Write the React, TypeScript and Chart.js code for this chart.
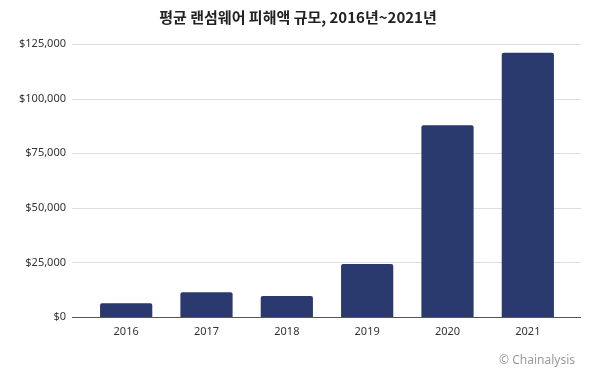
import React, { useEffect, useRef } from "react";
import { Chart, registerables } from "chart.js";

Chart.register(...registerables);

const TITLE = "평균 랜섬웨어 피해액 규모, 2016년~2021년";
const YEARS = ["2016", "2017", "2018", "2019", "2020", "2021"];
const AVG_PAYMENT = [6300, 11300, 9600, 24300, 87800, 121000];
const Y_MAX = 125000;
const Y_STEP = 25000;
const WATERMARK = "© Chainalysis";

const BAR_COLOR = "#2a3a6e";

const extendedGrid = {
  id: "extendedGrid",
  beforeDatasetsDraw(chart: any) {
    const { ctx, chartArea, scales } = chart;
    const y = scales.y;
    ctx.save();
    y.ticks.forEach((t: any) => {
      const py = Math.round(y.getPixelForValue(t.value)) + 0.5;
      ctx.beginPath();
      ctx.strokeStyle = t.value === 0 ? "#555555" : "#dddddd";
      ctx.lineWidth = 1;
      ctx.moveTo(chartArea.left - 14, py);
      ctx.lineTo(chartArea.right + 13, py);
      ctx.stroke();
    });
    ctx.restore();
  },
};

const texts = {
  id: "texts",
  afterDraw(chart: any) {
    const { ctx, width } = chart;
    ctx.save();
    ctx.font = "bold 15px 'Noto Sans CJK KR', sans-serif";
    ctx.fillStyle = "#222222";
    ctx.textAlign = "center";
    ctx.textBaseline = "middle";
    ctx.fillText(TITLE, 298, 17);
    ctx.font = "12px 'Noto Sans', sans-serif";
    ctx.fillStyle = "#9a9a9a";
    ctx.textAlign = "right";
    ctx.fillText(WATERMARK, width - 25, 361);
    ctx.restore();
  },
};

export default function App() {
  const ref = useRef<HTMLCanvasElement | null>(null);

  useEffect(() => {
    document.body.style.margin = "0";
    const canvas = ref.current;
    if (!canvas) return;
    const chart = new Chart(canvas, {
      type: "bar",
      data: {
        labels: YEARS,
        datasets: [
          {
            data: AVG_PAYMENT,
            backgroundColor: BAR_COLOR,
            borderRadius: 2,
            barPercentage: 0.65,
            categoryPercentage: 1,
          },
        ],
      },
      options: {
        animation: false,
        responsive: false,
        maintainAspectRatio: false,
        layout: { padding: { top: 44, right: 32, bottom: 0, left: 0 } },
        plugins: {
          legend: { display: false },
          tooltip: { enabled: false },
          title: { display: false },
        },
        scales: {
          x: {
            grid: { display: false, drawTicks: false },
            border: { display: false },
            ticks: {
              color: "#333333",
              padding: 8,
              font: { family: "'Noto Sans', sans-serif", size: 11 },
            },
            afterFit(scale: any) {
              scale.height = 54;
            },
          },
          y: {
            min: 0,
            max: Y_MAX,
            grid: { display: false, drawTicks: false },
            border: { display: false },
            ticks: {
              stepSize: Y_STEP,
              color: "#333333",
              padding: 20,
              font: { family: "'Noto Sans', sans-serif", size: 11 },
              callback: (v: any) => "$" + Number(v).toLocaleString("en-US"),
            },
            afterFit(scale: any) {
              scale.width = 86;
            },
          },
        },
      },
      plugins: [extendedGrid, texts],
    });
    return () => chart.destroy();
  }, []);

  return (
    <div style={{ width: 600, height: 371, background: "#ffffff" }}>
      <canvas ref={ref} width={600} height={371} />
    </div>
  );
}
